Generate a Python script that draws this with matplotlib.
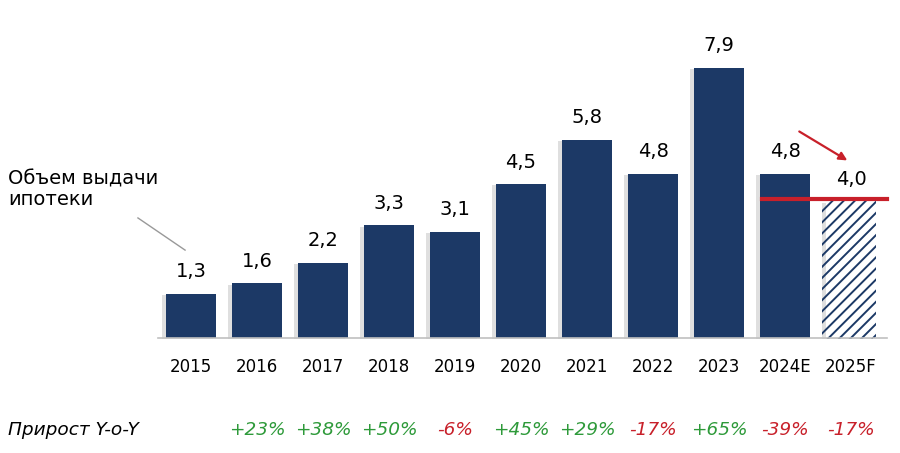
import matplotlib.pyplot as plt
import matplotlib.patheffects as pe

# data
years = ['2015', '2016', '2017', '2018', '2019', '2020', '2021', '2022', '2023', '2024E', '2025F']
volume = [1.3, 1.6, 2.2, 3.3, 3.1, 4.5, 5.8, 4.8, 7.9, 4.8, 4.0]
growth = ['', '+23%', '+38%', '+50%', '-6%', '+45%', '+29%', '-17%', '+65%', '-39%', '-17%']

navy = '#1c3966'
green = '#2e9a3a'
red = '#c8202a'

plt.rcParams['font.family'] = ['DejaVu Sans']
plt.rcParams['hatch.color'] = navy
plt.rcParams['hatch.linewidth'] = 1.4

fig = plt.figure(figsize=(9, 4.53), dpi=100)
ax = fig.add_axes([0, 0, 1, 1])
ax.set_xlim(-2.894, 10.742)
ax.set_ylim(-3.363, 9.883)
ax.axis('off')

x = list(range(len(years)))
shadow = [pe.SimplePatchShadow(offset=(-2.5, -1), shadow_rgbFace='gray', alpha=0.25), pe.Normal()]

bars = ax.bar(x[:-1], volume[:-1], width=0.76, color=navy, zorder=2)
for b in bars:
    b.set_path_effects(shadow)
fc = ax.bar(x[-1], volume[-1], width=0.76, color='white', edgecolor=navy,
            linewidth=0, hatch='///', zorder=2)
fc[0].set_path_effects(shadow)

# baseline
ax.plot([-0.5, 10.55], [0, 0], color='#c0c0c0', lw=1.2, zorder=3)

# value labels
for xi, v in zip(x, volume):
    ax.annotate(f'{v:.1f}'.replace('.', ','), (xi, v), xytext=(0, 9),
                textcoords='offset points', ha='center', va='bottom', fontsize=14)

# year labels
for xi, yr in zip(x, years):
    ax.text(xi, -0.85, yr, ha='center', va='center', fontsize=12)

# growth row
ax.text(-2.77, -2.69, 'Прирост Y-o-Y', ha='left', va='center', fontsize=13.3, style='italic')
for xi, g in zip(x, growth):
    if g:
        ax.text(xi, -2.69, g, ha='center', va='center', fontsize=13.3, style='italic',
                color=green if g.startswith('+') else red)

# red reference line at the 2025F level and arrow
ax.plot([8.65, 10.55], [4.05, 4.05], color=red, lw=3, zorder=3)
ax.annotate('', xy=(9.98, 5.15), xytext=(9.18, 6.08),
            arrowprops=dict(arrowstyle='-|>', color=red, lw=1.6, mutation_scale=12))

# series callout
ax.text(-2.77, 4.35, 'Объем выдачи\nипотеки', ha='left', va='center', fontsize=14,
        linespacing=1.15)
ax.plot([-0.804, -0.09], [3.51, 2.57], color='#999999', lw=1)

fig.savefig('out.png', dpi=100)
